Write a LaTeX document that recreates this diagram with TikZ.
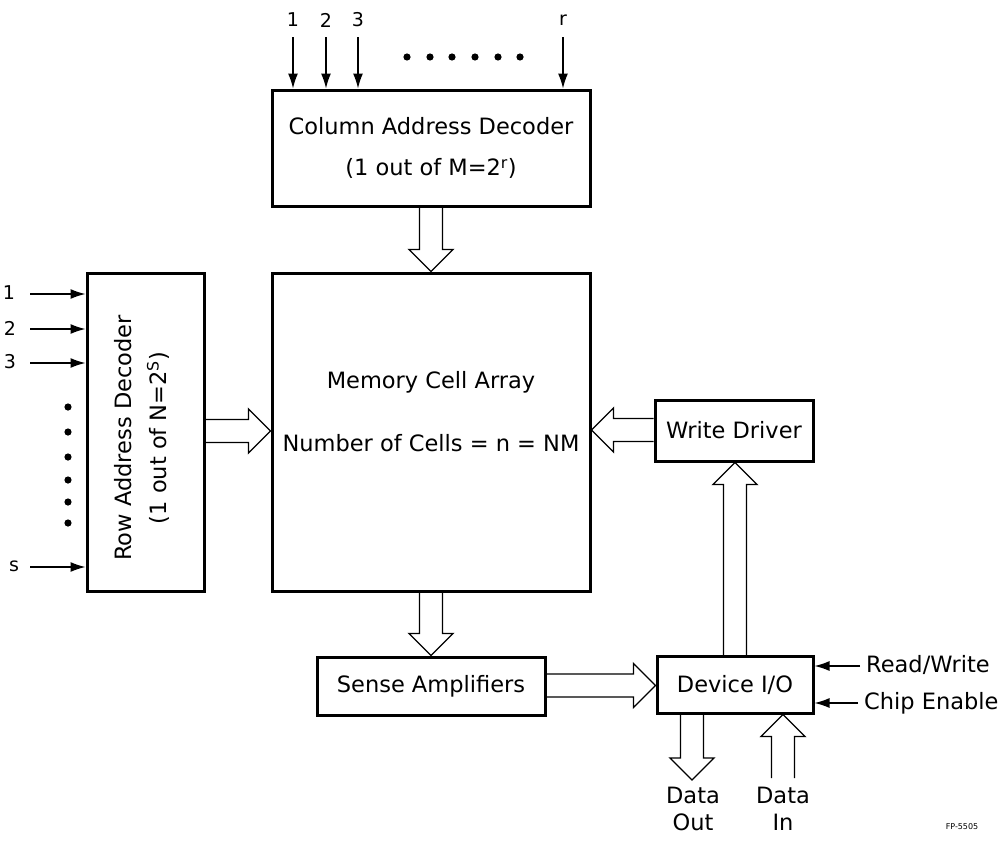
\documentclass[tikz,border=0pt]{standalone}
\usepackage{fontspec}
\setmainfont{DejaVu Sans}
\usetikzlibrary{calc,arrows.meta}
\newcommand\fatarrow[2]{%
  \draw[fat] let \p1=(#1), \p2=(#2),
    \n1={veclen(\x2-\x1,\y2-\y1)},
    \n2={(\x2-\x1)/\n1}, \n3={(\y2-\y1)/\n1} in
    ({\x1-11.5pt*\n3},{\y1+11.5pt*\n2})
    -- ({\x2-22pt*\n2-11.5pt*\n3},{\y2-22pt*\n3+11.5pt*\n2})
    -- ({\x2-22pt*\n2-22pt*\n3},{\y2-22pt*\n3+22pt*\n2})
    -- (\x2,\y2)
    -- ({\x2-22pt*\n2+22pt*\n3},{\y2-22pt*\n3-22pt*\n2})
    -- ({\x2-22pt*\n2+11.5pt*\n3},{\y2-22pt*\n3-11.5pt*\n2})
    -- ({\x1+11.5pt*\n3},{\y1-11.5pt*\n2});}
\begin{document}
\begin{tikzpicture}[x=1pt,y=-1pt,
  box/.style={draw, line width=3pt, inner sep=0pt, align=center},
  thinarr/.style={line width=1.3pt, -{Latex[length=15pt,width=10pt]}},
  fat/.style={line width=1.3pt, line join=miter},
  lbl/.style={font=\fontsize{22.5}{27}\selectfont, inner sep=0pt},
  num/.style={font=\fontsize{19}{22}\selectfont, inner sep=0pt},
  dotc/.style={fill=black}]
\useasboundingbox[fill=white] (0,0) rectangle (1005,846);

% boxes
\node[box, lbl, minimum width=318pt, minimum height=116pt] (col) at (431,148)
  {Column Address Decoder\\[14pt](1 out of M=2\textsuperscript{r})};
\node[box, minimum width=318pt, minimum height=318pt] (mem) at (431,432) {};
\node[lbl, align=center] (memtxt) at (431,412)
  {Memory Cell Array\\[36pt]Number of Cells = n = NM};
\node[box, minimum width=117pt, minimum height=318pt] (row) at (145.5,432) {};
\node[lbl, align=center, rotate=90] (rowtxt) at (141.5,438)
  {Row Address Decoder\\[8pt](1 out of N=2\textsuperscript{S})};
\node[box, lbl, minimum width=158pt, minimum height=61pt] (wd) at (734,430.5) {Write Driver};
\node[box, lbl, minimum width=228pt, minimum height=58pt] (sense) at (431,686) {Sense Amplifiers};
\node[box, lbl, minimum width=156pt, minimum height=57pt] (dio) at (735,684.5) {Device I/O};

% column address inputs
\foreach \i/\x/\t in {1/293/1, 2/326/2, 3/358/3, 4/563/r}{
  \node[num] (cl\i) at (\x,20) {\t};
  \coordinate (cs\i) at (\x,37);
  \draw[thinarr] (cs\i) -- (cs\i |- col.north);
}
\foreach \x in {407,430,452,475,498,520}{\fill[dotc] (\x,57) circle (3.6pt);}

% row address inputs
\foreach \i/\y/\t/\lx in {1/294/1/9, 2/329/2/10, 3/363/3/10, 4/567/s/14}{
  \node[num] (rl\i) at (\lx,\y-1) {\t};
  \coordinate (rs\i) at (30,\y);
  \draw[thinarr] (rs\i) -- (rs\i -| row.west);
}
\foreach \y in {407,432,457,480,502,523}{\fill[dotc] (68,\y) circle (3.6pt);}

% wide arrows
\fatarrow{col.south}{mem.north}
\fatarrow{row.east |- 0,431}{mem.west |- 0,431}
\fatarrow{mem.south}{sense.north}
\fatarrow{sense.east |- 0,685.5}{dio.west |- 0,685.5}
\fatarrow{dio.north |- 0,656}{wd.south -| dio.north}
\fatarrow{wd.west |- 0,430}{mem.east |- 0,430}
\coordinate (dout) at (692,780);
\fatarrow{dio.south -| dout}{dout}
\coordinate (din) at (783,778);
\fatarrow{din}{din |- dio.south}

% control inputs
\coordinate (rw) at (860,666);
\coordinate (ce) at (858,703);
\draw[thinarr] (rw) -- (rw -| dio.east);
\draw[thinarr] (ce) -- (ce -| dio.east);
\node[lbl, anchor=west] (rwl) at (866,665) {Read/Write};
\node[lbl, anchor=west] (cel) at (864,703) {Chip Enable};

% data labels
\node[lbl, align=center] (doutl) at (693,809) {Data\\Out};
\node[lbl, align=center] (dinl) at (783,809) {Data\\In};

\node[font=\fontsize{8}{9}\selectfont, inner sep=0pt] (fp) at (962,827) {FP-5505};
\end{tikzpicture}
\end{document}
